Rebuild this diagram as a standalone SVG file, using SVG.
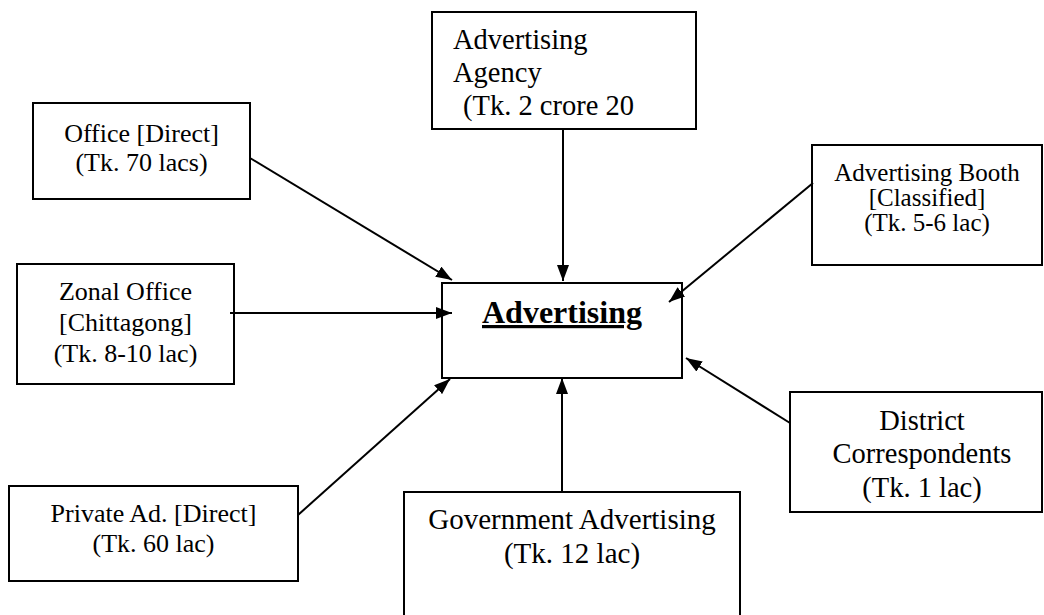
<svg xmlns="http://www.w3.org/2000/svg" width="1044" height="615" viewBox="0 0 1044 615">
<defs>
<style>
.box{fill:#fff;stroke:#000;stroke-width:2}
.t{font-family:"Liberation Serif","Times New Roman",serif;fill:#000;text-anchor:middle}
.c{stroke:#000;stroke-width:2;fill:none;marker-end:url(#ah)}
</style>
<marker id="ah" markerWidth="16" markerHeight="12" refX="16" refY="6" orient="auto" markerUnits="userSpaceOnUse">
<path d="M0,0 L16,6 L0,12 z" fill="#000"/>
</marker>
</defs>
<rect width="1044" height="615" fill="#fff"/>
<g id="agency">
<rect class="box" x="432" y="12" width="264" height="117"/>
<text class="t" style="text-anchor:start" font-size="28.5" x="453" y="49">Advertising</text>
<text class="t" style="text-anchor:start" font-size="28.5" x="453" y="82">Agency</text>
<text class="t" style="text-anchor:start" font-size="28.5" x="463" y="115">(Tk. 2 crore 20</text>
</g>
<g id="office">
<rect class="box" x="33" y="103" width="217" height="96"/>
<text class="t" font-size="26" x="141.5" y="142">Office [Direct]</text>
<text class="t" font-size="26" x="141.5" y="171">(Tk. 70 lacs)</text>
</g>
<g id="zonal">
<rect class="box" x="17" y="264" width="217" height="120"/>
<text class="t" font-size="26" x="125.5" y="300">Zonal Office</text>
<text class="t" font-size="26" x="125.5" y="331">[Chittagong]</text>
<text class="t" font-size="26" x="125.5" y="362">(Tk. 8-10 lac)</text>
</g>
<g id="private">
<rect class="box" x="9" y="486" width="289" height="95"/>
<text class="t" font-size="26" x="153.5" y="522">Private Ad. [Direct]</text>
<text class="t" font-size="26" x="153.5" y="552">(Tk. 60 lac)</text>
</g>
<g id="advertising">
<rect class="box" x="442" y="283" width="240" height="95"/>
<text class="t" font-size="32" font-weight="bold" x="562" y="323" text-decoration="underline">Advertising</text>
</g>
<g id="booth">
<rect class="box" x="812" y="145" width="230" height="120"/>
<text class="t" font-size="25" x="927" y="181">Advertising Booth</text>
<text class="t" font-size="25" x="927" y="206">[Classified]</text>
<text class="t" font-size="25" x="927" y="231">(Tk. 5-6 lac)</text>
</g>
<g id="government">
<rect class="box" x="404" y="492" width="336" height="130"/>
<text class="t" font-size="29" x="572" y="529">Government Advertising</text>
<text class="t" font-size="29" x="572" y="563">(Tk. 12 lac)</text>
</g>
<g id="district">
<rect class="box" x="790" y="392" width="252" height="120"/>
<text class="t" font-size="28.5" x="922" y="430">District</text>
<text class="t" font-size="28.5" x="922" y="463">Correspondents</text>
<text class="t" font-size="28.5" x="922" y="497">(Tk. 1 lac)</text>
</g>
<g id="connectors">
<line class="c" x1="563" y1="129" x2="563" y2="281"/>
<line class="c" x1="250" y1="158" x2="452" y2="280"/>
<line class="c" x1="230" y1="313" x2="452" y2="313"/>
<line class="c" x1="298" y1="515" x2="450" y2="379"/>
<line class="c" x1="562" y1="492" x2="562" y2="378"/>
<line class="c" x1="813" y1="183" x2="669" y2="302"/>
<line class="c" x1="790" y1="423" x2="686" y2="358"/>
</g>
</svg>
